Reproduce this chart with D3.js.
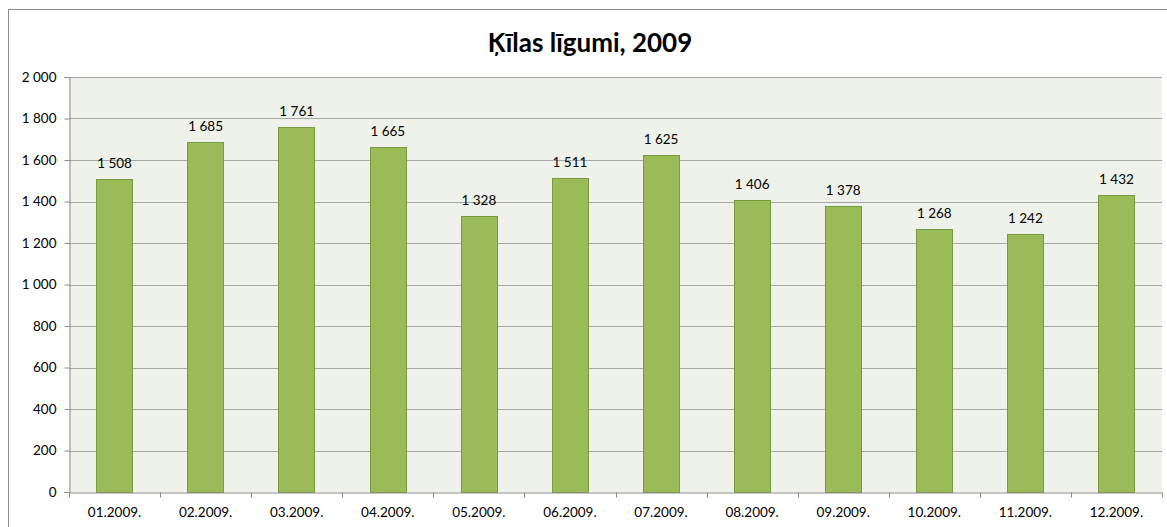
<!DOCTYPE html>
<html>
<head>
<meta charset="utf-8">
<script src="https://cdn.jsdelivr.net/npm/d3@7"></script>
<style>
  body { margin: 0; background: #fff; }
  text { font-family: Lato, "Open Sans", sans-serif; fill: #000; }
</style>
</head>
<body>
<div id="chart"></div>
<script>
// chart data
var months = ["01.2009.", "02.2009.", "03.2009.", "04.2009.", "05.2009.", "06.2009.",
              "07.2009.", "08.2009.", "09.2009.", "10.2009.", "11.2009.", "12.2009."];
var contracts = [1508, 1685, 1761, 1665, 1328, 1511, 1625, 1406, 1378, 1268, 1242, 1432];
var yTicks = [0, 200, 400, 600, 800, 1000, 1200, 1400, 1600, 1800, 2000];

var W = 1167, H = 527;
var margin = {top: 77, right: 5, bottom: 35, left: 69},
    width = W - margin.left - margin.right,
    height = H - margin.top - margin.bottom;

// thousands with a space
var fmt = function (v) { return d3.format(",")(v).replace(/,/g, " "); };

var svg = d3.select("#chart").append("svg")
    .attr("width", W)
    .attr("height", H);

// outer chart border
svg.append("rect")
    .attr("x", 8.5).attr("y", 9.5)
    .attr("width", W + 10).attr("height", H + 10)
    .attr("fill", "none")
    .attr("stroke", "#8c8c8c");

svg.append("text")
    .attr("x", 590).attr("y", 52)
    .attr("text-anchor", "middle")
    .style("font-size", "26px")
    .style("font-weight", "bold")
    .text("Ķīlas līgumi, 2009");

var g = svg.append("g")
    .attr("transform", "translate(" + margin.left + "," + margin.top + ")");

var x = d3.scaleBand()
    .domain(months)
    .range([0, width])
    .paddingInner(0.6)
    .paddingOuter(0.3);

var y = d3.scaleLinear()
    .domain([0, 2000])
    .range([height, 0]);

// plot background
g.append("rect")
    .attr("width", width).attr("height", height)
    .attr("fill", "#eff2ea");

// gridlines
g.append("g")
  .selectAll("line")
  .data(yTicks.slice(1))
  .enter().append("line")
    .attr("x1", 0).attr("x2", width)
    .attr("y1", function (d) { return Math.round(y(d)) + 0.5; })
    .attr("y2", function (d) { return Math.round(y(d)) + 0.5; })
    .attr("stroke", "#a6a6a6");

// bars
g.append("g")
  .selectAll("rect")
  .data(contracts)
  .enter().append("rect")
    .attr("x", function (d, i) { return Math.round(x(months[i])) + 0.5; })
    .attr("y", function (d) { return Math.round(y(d)) + 0.5; })
    .attr("width", Math.round(x.bandwidth()))
    .attr("height", function (d) { return Math.round(height - y(d)); })
    .attr("fill", "#9bbb59")
    .attr("stroke", "#789b3f");

// value labels
g.append("g")
  .selectAll("text")
  .data(contracts)
  .enter().append("text")
    .attr("x", function (d, i) { return x(months[i]) + x.bandwidth() / 2; })
    .attr("y", function (d) { return y(d) - 11; })
    .attr("text-anchor", "middle")
    .style("font-size", "13.5px")
    .text(function (d) { return fmt(d); });

// Y axis
var yAxis = g.append("g")
    .attr("transform", "translate(0.5,0)")
    .call(d3.axisLeft(y).tickValues(yTicks).tickFormat(fmt).tickSize(5).tickPadding(8));
yAxis.selectAll("text").style("font-size", "13.5px");

// X axis
var xAxis = g.append("g")
    .attr("transform", "translate(0," + (height + 0.5) + ")")
    .call(d3.axisBottom(x).tickSize(0).tickPadding(15));
xAxis.selectAll("text").style("font-size", "13.5px");
xAxis.selectAll(".bound")
  .data(d3.range(months.length + 1))
  .enter().append("line")
    .attr("class", "bound")
    .attr("x1", function (i) { return Math.round(i * width / months.length) + 0.5; })
    .attr("x2", function (i) { return Math.round(i * width / months.length) + 0.5; })
    .attr("y1", 0).attr("y2", 5)
    .attr("stroke", "#8c8c8c");

svg.selectAll(".domain").attr("stroke", "#8c8c8c");
svg.selectAll(".tick line").attr("stroke", "#8c8c8c");
</script>
</body>
</html>
